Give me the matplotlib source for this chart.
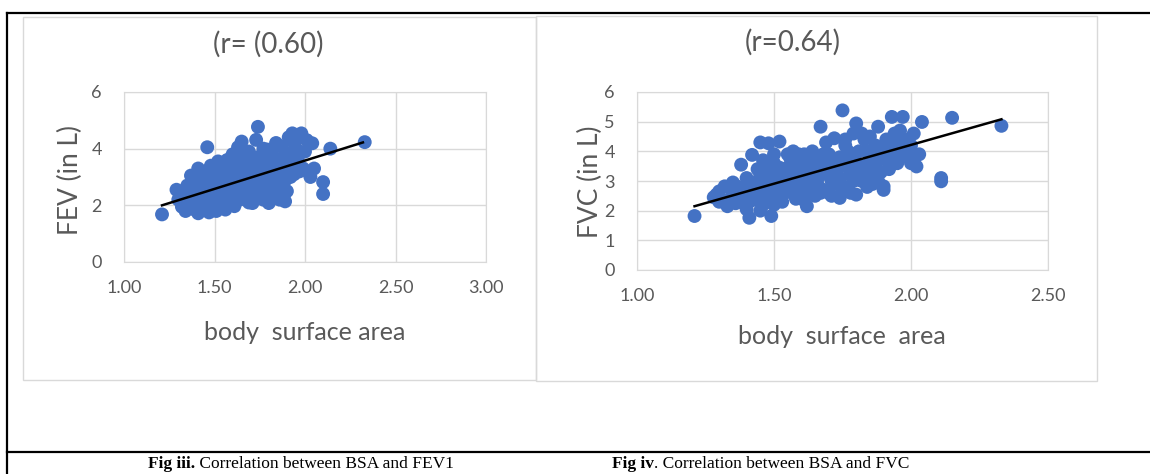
import matplotlib
matplotlib.use("Agg")
import matplotlib.pyplot as plt
from matplotlib.lines import Line2D
from matplotlib.patches import Rectangle
from matplotlib.ticker import FormatStrFormatter
import numpy as np

W, H = 1150, 474
TXT = "#595959"
GRID = "#D9D9D9"
BLUE = "#4472C4"

# ---- data ----
fev_bsa = [1.21, 1.29, 1.30, 1.32, 1.33, 1.34, 1.35, 1.36, 1.37, 1.38, 1.39, 1.40, 1.41, 1.41, 1.42,
           1.43, 1.44, 1.45, 1.46, 1.46, 1.47, 1.48, 1.48, 1.49, 1.50, 1.50, 1.51, 1.52, 1.52, 1.53,
           1.54, 1.55, 1.55, 1.56, 1.57, 1.57, 1.58, 1.59, 1.60, 1.60, 1.61, 1.62, 1.62, 1.63, 1.64,
           1.64, 1.65, 1.66, 1.66, 1.67, 1.68, 1.69, 1.69, 1.70, 1.71, 1.71, 1.72, 1.73, 1.73, 1.74,
           1.74, 1.75, 1.76, 1.77, 1.77, 1.78, 1.79, 1.79, 1.80, 1.80, 1.81, 1.82, 1.83, 1.84, 1.85,
           1.85, 1.86, 1.87, 1.88, 1.89, 1.89, 1.90, 1.91, 1.92, 1.93, 1.94, 1.95, 1.96, 1.98, 1.99,
           2.00, 2.01, 2.02, 2.03, 2.04, 2.05, 2.10, 2.10, 2.14, 2.33,
           1.31, 1.35, 1.38, 1.40, 1.43, 1.44, 1.46, 1.47, 1.49, 1.51, 1.53, 1.54, 1.56, 1.58, 1.59,
           1.61, 1.63, 1.65, 1.67, 1.68, 1.70, 1.72, 1.75, 1.76, 1.78, 1.81, 1.82, 1.84, 1.86, 1.88,
           1.90, 1.92, 1.94, 1.97]
fev_val = [1.68, 2.55, 2.20, 1.95, 2.40, 1.80, 2.70, 2.10, 3.05, 2.45, 1.85, 2.80, 1.72, 3.30, 2.20,
           2.60, 1.90, 3.00, 4.05, 2.40, 1.75, 2.80, 3.40, 2.05, 2.60, 3.20, 1.80, 2.30, 3.55, 2.90,
           2.00, 3.30, 2.55, 1.85, 3.60, 2.20, 2.75, 3.10, 2.40, 3.80, 1.97, 2.65, 3.40, 4.05, 2.20,
           3.00, 4.25, 2.50, 3.65, 2.85, 3.25, 2.10, 3.90, 2.60, 3.45, 2.08, 3.05, 4.31, 2.40, 4.77,
           3.70, 2.80, 3.25, 2.20, 4.00, 3.50, 3.97, 2.60, 2.08, 3.00, 3.75, 3.30, 2.45, 4.20, 2.90,
           3.60, 2.20, 4.08, 3.20, 2.88, 2.14, 3.85, 4.40, 3.50, 4.54, 3.10, 4.00, 3.65, 4.54, 3.30,
           3.90, 4.30, 3.17, 3.00, 4.19, 3.30, 2.82, 2.40, 4.00, 4.23,
           2.35, 2.25, 2.00, 2.50, 2.90, 2.20, 2.70, 3.10, 2.50, 2.75, 2.10, 3.45, 2.95, 2.05, 3.50,
           2.85, 2.45, 3.25, 2.30, 3.70, 3.00, 2.70, 3.50, 2.50, 2.90, 2.40, 3.95, 2.70, 3.35, 3.70,
           2.50, 3.00, 4.20, 3.20]

fvc_bsa = [1.21, 1.29, 1.32, 1.28, 1.30, 1.33, 1.35, 1.36, 1.38, 1.40, 1.41, 1.42, 1.45, 1.48, 1.49,
           1.52, 1.45, 1.47, 1.44, 1.46, 1.48, 1.50, 1.50, 1.52, 1.53, 1.54, 1.55, 1.56, 1.57, 1.58,
           1.60, 1.60, 1.61, 1.62, 1.62, 1.64, 1.65, 1.66, 1.67, 1.67, 1.68, 1.69, 1.70, 1.71, 1.72,
           1.73, 1.74, 1.75, 1.75, 1.76, 1.77, 1.78, 1.79, 1.80, 1.80, 1.80, 1.81, 1.82, 1.83, 1.84,
           1.85, 1.86, 1.87, 1.88, 1.89, 1.90, 1.90, 1.91, 1.92, 1.93, 1.94, 1.95, 1.96, 1.97, 1.98,
           1.99, 2.00, 2.02, 2.03, 2.04, 2.01, 2.11, 2.11, 2.15, 2.33,
           1.30, 1.34, 1.37, 1.39, 1.40, 1.42, 1.43, 1.44, 1.46, 1.47, 1.49, 1.51, 1.53, 1.55, 1.56,
           1.57, 1.58, 1.59, 1.60, 1.63, 1.63, 1.65, 1.66, 1.68, 1.69, 1.70, 1.72, 1.73, 1.74, 1.76,
           1.77, 1.78, 1.79, 1.82, 1.83, 1.84, 1.86, 1.87, 1.88, 1.89, 1.91, 1.92, 1.94, 1.96, 1.97,
           1.43, 1.45, 1.47, 1.49, 1.50, 1.51, 1.52, 1.54, 1.55, 1.57, 1.58, 1.59, 1.61, 1.62, 1.64,
           1.65, 1.67, 1.68, 1.70, 1.71, 1.72, 1.74, 1.75, 1.76, 1.78, 1.79, 1.81, 1.82, 1.84, 1.85,
           1.87, 1.88, 1.90, 1.93, 1.95, 1.98, 2.00, 1.35, 1.38, 1.41, 1.46]
fvc_val = [1.82, 2.54, 2.82, 2.45, 2.30, 2.15, 2.60, 2.25, 3.55, 2.05, 1.76, 3.88, 4.30, 4.27, 1.82,
           4.33, 2.00, 2.40, 2.70, 3.00, 3.30, 3.60, 2.20, 2.50, 2.85, 3.15, 3.45, 3.75, 4.00, 2.40,
           2.70, 3.00, 3.35, 3.70, 2.15, 4.00, 2.50, 2.85, 3.20, 4.83, 3.55, 4.30, 2.60, 3.00, 4.44,
           3.40, 2.43, 5.38, 3.80, 4.20, 2.80, 3.20, 4.60, 4.94, 2.54, 3.60, 4.00, 3.00, 4.40, 3.40,
           3.80, 2.90, 4.20, 4.83, 3.30, 2.82, 2.70, 3.70, 4.10, 5.16, 4.60, 3.60, 4.00, 5.16, 4.40,
           3.80, 4.20, 3.49, 3.90, 4.99, 4.60, 3.10, 2.99, 5.13, 4.86,
           2.65, 2.40, 2.80, 2.50, 3.10, 2.35, 2.95, 3.40, 3.70, 2.65, 2.95, 3.20, 2.30, 2.65, 3.00,
           3.30, 3.60, 3.90, 2.40, 2.90, 3.50, 3.80, 3.10, 2.70, 3.30, 3.90, 2.90, 3.70, 3.10, 3.50,
           4.00, 2.60, 3.90, 3.50, 3.20, 4.00, 3.60, 3.10, 4.10, 3.90, 4.40, 3.40, 3.90, 4.70, 4.20,
           2.55, 3.20, 3.50, 2.55, 3.90, 2.85, 3.45, 2.60, 3.90, 2.70, 3.15, 2.50, 3.90, 2.55, 3.25,
           3.55, 2.60, 3.90, 3.55, 2.50, 3.30, 3.80, 2.70, 4.40, 3.60, 3.00, 3.30, 4.60, 2.80, 4.50,
           3.50, 3.00, 4.00, 3.80, 4.30, 3.95, 3.60, 2.95, 2.30, 2.75, 2.20]

# linear trendlines (end points)
fev_trend_x = [1.21, 2.32]
fev_trend_y = [2.00, 4.22]
fvc_trend_x = [1.21, 2.33]
fvc_trend_y = [2.15, 5.08]

titles = ["(r= (0.60)", "(r=0.64)"]
ylabels = ["FEV (in L)", "FVC (in L)"]
xlabels = ["body  surface area", "body  surface  area"]
cap_bold = ["Fig iii.", "Fig iv"]
cap_rest = [" Correlation between BSA and FEV1", ". Correlation between BSA and FVC"]

plt.rcParams["font.family"] = ["Lato", "DejaVu Sans"]

fig = plt.figure(figsize=(W / 100, H / 100), dpi=100)


def fx(x):
    return x / W


def fy(y):
    return 1 - y / H


def box(x0, y0, x1, y1):
    return [fx(x0), fy(y1), fx(x1) - fx(x0), fy(y0) - fy(y1)]


# outer table lines
for xs, ys in [([7, W], [13, 13]), ([7, 7], [13, H]), ([7, W], [452, 452])]:
    fig.add_artist(Line2D([fx(v) for v in xs], [fy(v) for v in ys], color="black", lw=1.6))

# chart area frames
for x0, y0, x1, y1 in [(23, 17, 536, 380), (536, 16, 1097, 381)]:
    fig.add_artist(Rectangle((fx(x0), fy(y1)), fx(x1) - fx(x0), fy(y0) - fy(y1),
                             transform=fig.transFigure, fill=False, edgecolor=GRID, lw=1))

ax1 = fig.add_axes(box(124, 92, 486, 262))
ax2 = fig.add_axes(box(637, 92, 1048, 270))

panels = [
    (ax1, fev_bsa, fev_val, fev_trend_x, fev_trend_y, (1.0, 3.0), np.arange(0, 7, 2)),
    (ax2, fvc_bsa, fvc_val, fvc_trend_x, fvc_trend_y, (1.0, 2.5), np.arange(0, 7, 1)),
]
for i, (ax, xs, ys, tx, ty, xlim, yticks) in enumerate(panels):
    ax.scatter(xs, ys, s=100, color=BLUE, edgecolors="none", zorder=3)
    ax.plot(tx, ty, color="black", lw=1.8, zorder=4)
    ax.set_xlim(*xlim)
    ax.set_ylim(0, 6)
    ax.set_xticks(np.arange(xlim[0], xlim[1] + 0.01, 0.5))
    ax.set_yticks(yticks)
    ax.xaxis.set_major_formatter(FormatStrFormatter("%.2f"))
    ax.grid(True, color=GRID, lw=1)
    ax.set_axisbelow(True)
    for sp in ax.spines.values():
        sp.set_color(GRID)
    ax.tick_params(length=0, labelsize=13, labelcolor=TXT)
    ax.tick_params(axis="x", pad=13)
    ax.tick_params(axis="y", pad=16)

# titles, axis labels
fig.text(fx(268), fy(44), titles[0], ha="center", va="center", fontsize=20, color=TXT)
fig.text(fx(793), fy(42), titles[1], ha="center", va="center", fontsize=20, color=TXT)
fig.text(fx(305), fy(333), xlabels[0], ha="center", va="center", fontsize=18, color=TXT)
fig.text(fx(842), fy(336), xlabels[1], ha="center", va="center", fontsize=18, color=TXT)
fig.text(fx(70), fy(180), ylabels[0], ha="center", va="center", rotation=90, fontsize=19, color=TXT)
fig.text(fx(590), fy(182), ylabels[1], ha="center", va="center", rotation=90, fontsize=19, color=TXT)

# captions with bold lead-in
renderer = fig.canvas.get_renderer()
for x0, b, r in [(148, cap_bold[0], cap_rest[0]), (612, cap_bold[1], cap_rest[1])]:
    t = fig.text(fx(x0), fy(464), b, ha="left", va="center", fontsize=12.5,
                 family="Liberation Serif", weight="bold", color="black")
    ext = t.get_window_extent(renderer)
    fig.text(ext.x1 / W, fy(464), r, ha="left", va="center", fontsize=12.5,
             family="Liberation Serif", color="black")

fig.savefig("out.png", dpi=100)
